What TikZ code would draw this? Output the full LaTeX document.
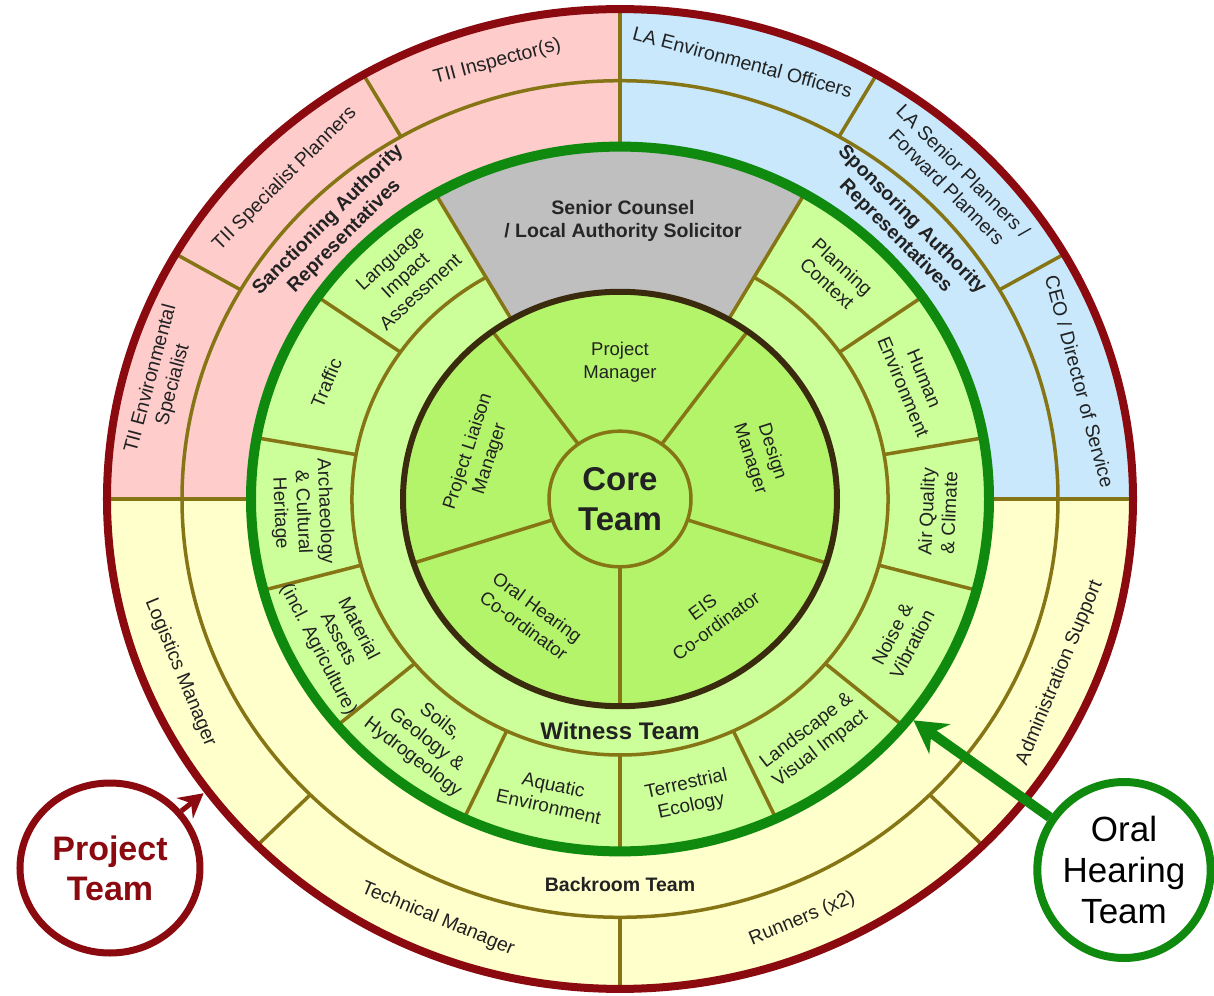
\documentclass[tikz,border=0pt]{standalone}
\usepackage{fontspec}
\setmainfont{Liberation Sans}
\usetikzlibrary{arrows.meta,shapes.geometric}
\definecolor{pinkf}{HTML}{FFCCCC}
\definecolor{bluef}{HTML}{C9E8FC}
\definecolor{yelf}{HTML}{FFFFCC}
\definecolor{cellg}{HTML}{CCFF99}
\definecolor{coreg}{HTML}{B4F46A}
\definecolor{grayf}{HTML}{BFBFBF}
\definecolor{olv}{HTML}{857515}
\definecolor{dred}{HTML}{8A0A10}
\definecolor{ringg}{HTML}{0F8A0F}
\definecolor{coreb}{HTML}{3A2A0E}
\definecolor{txt}{HTML}{222222}
\begin{document}
\begin{tikzpicture}[x=1pt,y=1pt,
  sep/.style={draw=olv,line width=3.5pt},
  lbl/.style={align=center,text=txt,inner sep=0pt,font=\fontsize{19}{22.5}\selectfont},
  outl/.style={align=center,text=txt,inner sep=0pt,font=\fontsize{19.5}{23}\selectfont},
  corel/.style={align=center,text=txt,inner sep=0pt,font=\fontsize{18.5}{23}\selectfont},
  boldl/.style={align=center,text=txt,inner sep=0pt,font=\bfseries\fontsize{19.5}{23}\selectfont},
  bubble/.style={ellipse,fill=white,align=center,inner sep=0pt}]
\useasboundingbox (-620,-496) rectangle (594,499);
\begin{scope}[yscale=0.955]
  % outer fills
  \fill[yelf] (0,0) circle[radius=513];
  \fill[pinkf] (0,0) -- (90:513) arc[start angle=90,end angle=180,radius=513] -- cycle;
  \fill[bluef] (0,0) -- (0:513) arc[start angle=0,end angle=90,radius=513] -- cycle;
  \draw[sep] (0,0) circle[radius=438];
  \foreach \a in {30,60,120,150,225,270,315} \draw[sep] (\a:438) -- (\a:513);
  \foreach \a in {0,90,180} \draw[sep] (\a:369) -- (\a:513);
  % inner fills
  \fill[cellg] (0,0) circle[radius=369];
  \fill[grayf] (60:217) arc[start angle=60,end angle=120,radius=217] -- (120:369) arc[start angle=120,end angle=60,radius=369] -- cycle;
  \foreach \a in {145,170,...,395} \draw[sep] (\a:268) -- (\a:369);
  \foreach \a in {60,120} \draw[sep] (\a:217) -- (\a:369);
  \draw[sep] (120:268) arc[start angle=120,end angle=420,radius=268];
  % core
  \fill[coreg] (0,0) circle[radius=217];
  \foreach \a in {54,126,198,270,342} \draw[sep] (\a:71) -- (\a:217);
  \draw[sep,fill=coreg] (0,0) circle[radius=71];
  \draw[line width=6pt,draw=coreb] (0,0) circle[radius=217];
  % rings
  \draw[line width=10pt,draw=ringg] (0,0) circle[radius=369];
  \draw[line width=8pt,draw=dred] (0,0) circle[radius=513];
  % outer band labels
  \node[outl,rotate=15] (tiiI) at (105:474) {TII Inspector(s)};
  \node[outl,rotate=45] (tiiS) at (135:474) {TII Specialist Planners};
  \node[outl,rotate=75] (tiiE) at (165:474) {TII Environmental\\Specialist};
  \node[outl,rotate=-15] (laE) at (75:474) {LA Environmental Officers};
  \node[outl,rotate=-45] (laS) at (45:474) {LA Senior Planners /\\Forward Planners};
  \node[outl,rotate=-75] (ceo) at (15:476) {CEO / Director of Service};
  \node[outl,rotate=-67.5] (logi) at (202.5:476) {Logistics Manager};
  \node[outl,rotate=-22.5] (tech) at (247.5:476) {Technical Manager};
  \node[outl,rotate=22.5] (run) at (292.5:476) {Runners (x2)};
  \node[outl,rotate=67.5] (adm) at (337.5:476) {Administration Support};
  % middle band labels
  \node[boldl,rotate=45] (sanc) at (135:401) {Sanctioning Authority\\Representatives};
  \node[boldl,rotate=-45] (spon) at (45:401) {Sponsoring Authority\\Representatives};
  \node[boldl] (back) at (270:404) {Backroom Team};
  % gray sector
  \node[boldl,text=black!85] (senior) at (3,291) {Senior Counsel\\/ Local Authority Solicitor};
  % witness cells
  \node[lbl,rotate=42.5] (lang) at (132.5:318) {Language\\Impact\\Assessment};
  \node[lbl,rotate=67.5] (traf) at (157.5:318) {Traffic};
  \node[lbl,rotate=-87.5] (arch) at (182.5:318) {Archaeology\\\& Cultural\\Heritage};
  \node[lbl,rotate=-62.5] (mat) at (207.5:318) {Material\\Assets\\(incl. Agriculture)};
  \node[lbl,rotate=-37.5] (soil) at (232.5:318) {Soils,\\Geology \&\\Hydrogeology};
  \node[lbl,rotate=-12.5] (aqua) at (257.5:318) {Aquatic\\Environment};
  \node[lbl,rotate=12.5] (terr) at (282.5:318) {Terrestrial\\Ecology};
  \node[lbl,rotate=37.5] (land) at (307.5:318) {Landscape \&\\Visual Impact};
  \node[lbl,rotate=62.5] (noise) at (332.5:318) {Noise \&\\Vibration};
  \node[lbl,rotate=87.5] (air) at (357.5:318) {Air Quality\\\& Climate};
  \node[lbl,rotate=-67.5] (human) at (22.5:318) {Human\\Environment};
  \node[lbl,rotate=-42.5] (plan) at (47.5:318) {Planning\\Context};
  \node[boldl,font=\bfseries\fontsize{24}{28}\selectfont] (wit) at (270:243) {Witness Team};
  % core labels
  \node[corel] (pm) at (90:143) {Project\\Manager};
  \node[corel,rotate=-72] (dm) at (18:148) {Design\\Manager};
  \node[corel,rotate=36] (eis) at (306:152) {EIS\\Co-ordinator};
  \node[corel,rotate=-36] (ohc) at (234:152) {Oral Hearing\\Co-ordinator};
  \node[corel,rotate=72] (plm) at (162:148) {Project Liaison\\Manager};
  \node[boldl,font=\bfseries\fontsize{33}{40}\selectfont] (core) at (0,0) {Core\\Team};
  % arrow targets
  \coordinate (ptTip) at (216.5:518);
  \coordinate (ohTip) at (321.7:374);
\end{scope}
% side bubbles
\node[bubble,draw=dred,line width=7pt,minimum width=180pt,minimum height=170pt,
  text=dred,font=\bfseries\fontsize{34}{40}\selectfont] (pt) at (-510,-369) {Project\\Team};
\node[bubble,draw=ringg,line width=8pt,minimum width=170pt,minimum height=176pt,
  text=black,font=\fontsize{35}{41}\selectfont] (oh) at (504,-371) {Oral\\Hearing\\Team};
\draw[draw=dred,line width=5pt,-{Stealth[length=24pt,width=26pt,inset=8pt]}] (pt) -- (ptTip);
\draw[draw=ringg,line width=10pt,-{Stealth[length=32pt,width=36pt,inset=10pt]}] (oh) -- (ohTip);
\end{tikzpicture}
\end{document}
